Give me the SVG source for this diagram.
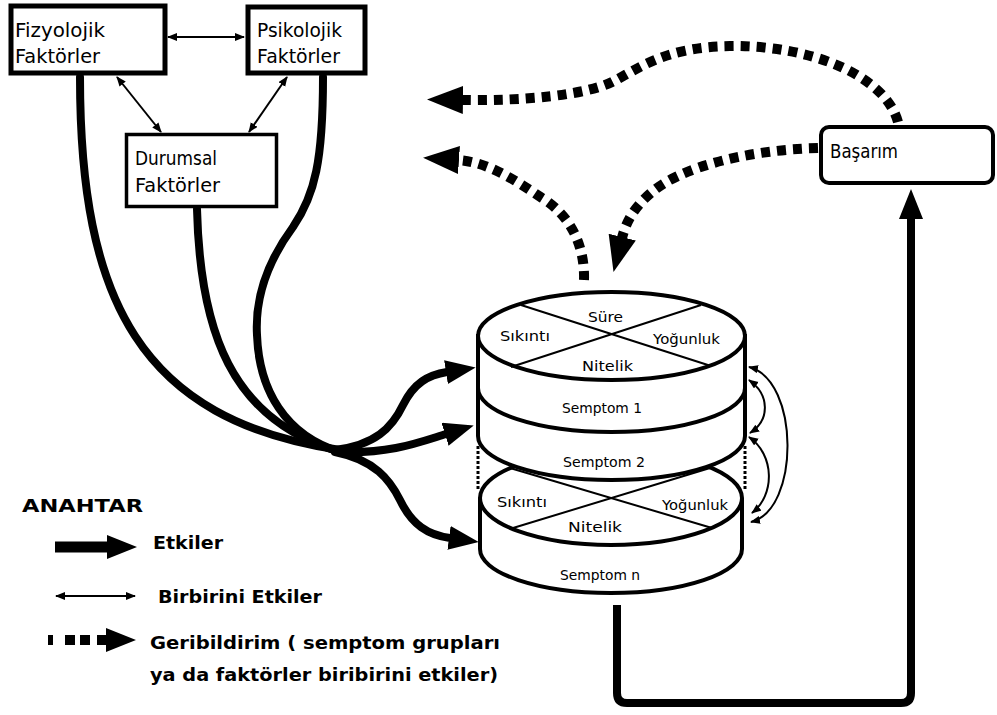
<svg xmlns="http://www.w3.org/2000/svg" width="997" height="715" viewBox="0 0 997 715">
<defs>
<style>
.box{fill:#fff;stroke:#000;stroke-width:5}
.thick{fill:none;stroke:#000;stroke-width:8;stroke-linecap:round}
.thin{fill:none;stroke:#000;stroke-width:2}
.dot{fill:none;stroke:#000;stroke-width:10;stroke-dasharray:9 7}
.disk{fill:#fff;stroke:#000;stroke-width:4}
.diag{fill:none;stroke:#000;stroke-width:2}
.nt{font-family:"DejaVu Sans",sans-serif;font-size:19px;fill:#000}
.dt{font-family:"DejaVu Sans",sans-serif;font-size:14px;fill:#000}
.lt{font-family:"DejaVu Sans",sans-serif;font-size:18px;font-weight:bold;fill:#000}
</style>
<marker id="big" markerUnits="userSpaceOnUse" markerWidth="32" markerHeight="26" refX="1" refY="12" orient="auto">
<path d="M0,0 L30,12 L0,24 Z" fill="#000"/>
</marker>
<marker id="fb" markerUnits="userSpaceOnUse" markerWidth="38" markerHeight="30" refX="1" refY="14" orient="auto">
<path d="M0,0 L36,14 L0,28 Z" fill="#000"/>
</marker>
<marker id="sm" markerUnits="userSpaceOnUse" markerWidth="12" markerHeight="10" refX="9" refY="4" orient="auto-start-reverse">
<path d="M0,0 L10,4 L0,8 Z" fill="#000"/>
</marker>
</defs>
<rect width="997" height="715" fill="#fff"/>

<g id="connectors">
<!-- thin mutual influence -->
<path class="thin" d="M168,37 L244,37" marker-start="url(#sm)" marker-end="url(#sm)"/>
<path class="thin" d="M117,77 L161,132" marker-start="url(#sm)" marker-end="url(#sm)"/>
<path class="thin" d="M287,77 L249,132" marker-start="url(#sm)" marker-end="url(#sm)"/>
<!-- thick influence curves -->
<path class="thick" d="M80,77 C80,300 140,420 340,450"/>
<path class="thick" d="M197,209 C200,330 230,420 340,452"/>
<path class="thick" d="M323,77 C323,160 315,195 293,227 C265,265 255,300 257,335 C259,390 285,435 340,452"/>
<path class="thick" d="M335,450 C375,445 392,428 403,405 C414,383 428,375 447,372" marker-end="url(#big)"/>
<path class="thick" d="M340,452 C390,454 420,442 446,434" marker-end="url(#big)"/>
<path class="thick" d="M335,452 C375,460 390,480 400,500 C412,525 428,535 450,538" marker-end="url(#big)"/>
<!-- bottom loop to Basarim -->
<path class="thick" style="stroke-linecap:butt" d="M617,605 L617,693 Q617,703 627,703 L901,703 Q911,703 911,693 L911,218" marker-end="url(#big)"/>
<!-- feedback dotted -->
<path class="dot" d="M898,122 C885,75 810,45 730,46 C665,47 640,68 612,82 C585,95 525,101 462,100" marker-end="url(#fb)"/>
<path class="dot" d="M818,148 C745,150 680,168 652,192 C634,207 626,222 622,238" marker-end="url(#fb)"/>
<path class="dot" d="M584,280 C585,245 570,215 542,198 C515,180 488,162 458,160" marker-end="url(#fb)"/>
<!-- symptom interactions -->
<path class="thin" d="M749,367 C800,380 800,510 751,522" marker-start="url(#sm)" marker-end="url(#sm)"/>
<path class="thin" d="M749,380 C770,395 770,420 750,433" marker-start="url(#sm)" marker-end="url(#sm)"/>
<path class="thin" d="M749,437 C775,455 775,495 752,513" marker-start="url(#sm)" marker-end="url(#sm)"/>
</g>

<g id="fizyolojik">
<rect class="box" x="11" y="6" width="154" height="67"/>
<text class="nt" x="15" y="37" textLength="90" lengthAdjust="spacingAndGlyphs">Fizyolojik</text>
<text class="nt" x="15" y="63" textLength="85" lengthAdjust="spacingAndGlyphs">Faktörler</text>
</g>

<g id="psikolojik">
<rect class="box" x="248" y="7" width="117" height="66"/>
<text class="nt" x="257" y="37" textLength="85" lengthAdjust="spacingAndGlyphs">Psikolojik</text>
<text class="nt" x="257" y="63" textLength="83" lengthAdjust="spacingAndGlyphs">Faktörler</text>
</g>

<g id="durumsal">
<rect class="box" style="stroke-width:3.5" x="126.5" y="134.5" width="150" height="72"/>
<text class="nt" x="135" y="165" textLength="82" lengthAdjust="spacingAndGlyphs">Durumsal</text>
<text class="nt" x="135" y="192" textLength="85" lengthAdjust="spacingAndGlyphs">Faktörler</text>
</g>

<g id="basarim">
<rect class="box" style="stroke-width:4" x="821" y="127" width="172" height="56" rx="8"/>
<text class="nt" x="830" y="158" textLength="68" lengthAdjust="spacingAndGlyphs">Başarım</text>
</g>

<g id="semptom-stack">
<!-- symptom n disk (behind) -->
<path class="disk" d="M480,498 L480,549 A131,44 0 0 0 742,549 L742,498"/>
<ellipse class="disk" cx="611" cy="498" rx="131" ry="47"/>
<path class="diag" d="M510,468 L712,528 M710,468 L513,528"/>
<!-- connecting dotted sides -->
<path fill="none" stroke="#000" stroke-width="3" stroke-dasharray="3 2" d="M478,446 L478,490 M745,446 L745,490"/>
<!-- top cylinder -->
<path class="disk" d="M478,336 L478,436 A133.5,44 0 0 0 745,436 L745,336 Z"/>
<path class="disk" style="fill:none" d="M478,388 A133.5,44 0 0 0 745,388"/>
<ellipse class="disk" cx="611.5" cy="336" rx="133.5" ry="44"/>
<path class="diag" d="M521,305 L711,366 M701,305 L511,367"/>
<text class="dt" x="588" y="322" textLength="35" lengthAdjust="spacingAndGlyphs">Süre</text>
<text class="dt" x="500" y="341" textLength="50" lengthAdjust="spacingAndGlyphs">Sıkıntı</text>
<text class="dt" x="653" y="344" textLength="67" lengthAdjust="spacingAndGlyphs">Yoğunluk</text>
<text class="dt" x="582" y="371" textLength="51" lengthAdjust="spacingAndGlyphs">Nitelik</text>
<text class="dt" x="562" y="413" textLength="80" lengthAdjust="spacingAndGlyphs">Semptom 1</text>
<text class="dt" x="563" y="467" textLength="82" lengthAdjust="spacingAndGlyphs">Semptom 2</text>
<text class="dt" x="497" y="507" textLength="50" lengthAdjust="spacingAndGlyphs">Sıkıntı</text>
<text class="dt" x="662" y="510" textLength="66" lengthAdjust="spacingAndGlyphs">Yoğunluk</text>
<text class="dt" x="568" y="532" textLength="54" lengthAdjust="spacingAndGlyphs">Nitelik</text>
<text class="dt" x="560" y="580" textLength="80" lengthAdjust="spacingAndGlyphs">Semptom n</text>
</g>

<g id="legend">
<text class="lt" x="22" y="512" textLength="121" lengthAdjust="spacingAndGlyphs">ANAHTAR</text>
<path fill="none" stroke="#000" stroke-width="11" d="M55,547 L108,547" marker-end="url(#big)"/>
<text class="lt" x="153" y="549" textLength="70" lengthAdjust="spacingAndGlyphs">Etkiler</text>
<path class="thin" d="M56,596 L135,596" marker-start="url(#sm)" marker-end="url(#sm)"/>
<text class="lt" x="158" y="603" textLength="164" lengthAdjust="spacingAndGlyphs">Birbirini Etkiler</text>
<path fill="none" stroke="#000" stroke-width="10" stroke-dasharray="5 12 10 5 10 7 20" d="M48,640 L107,640" marker-end="url(#big)"/>
<text class="lt" x="150" y="649" textLength="350" lengthAdjust="spacingAndGlyphs">Geribildirim ( semptom grupları</text>
<text class="lt" x="150" y="681" textLength="348" lengthAdjust="spacingAndGlyphs">ya da faktörler biribirini etkiler)</text>
</g>
</svg>
